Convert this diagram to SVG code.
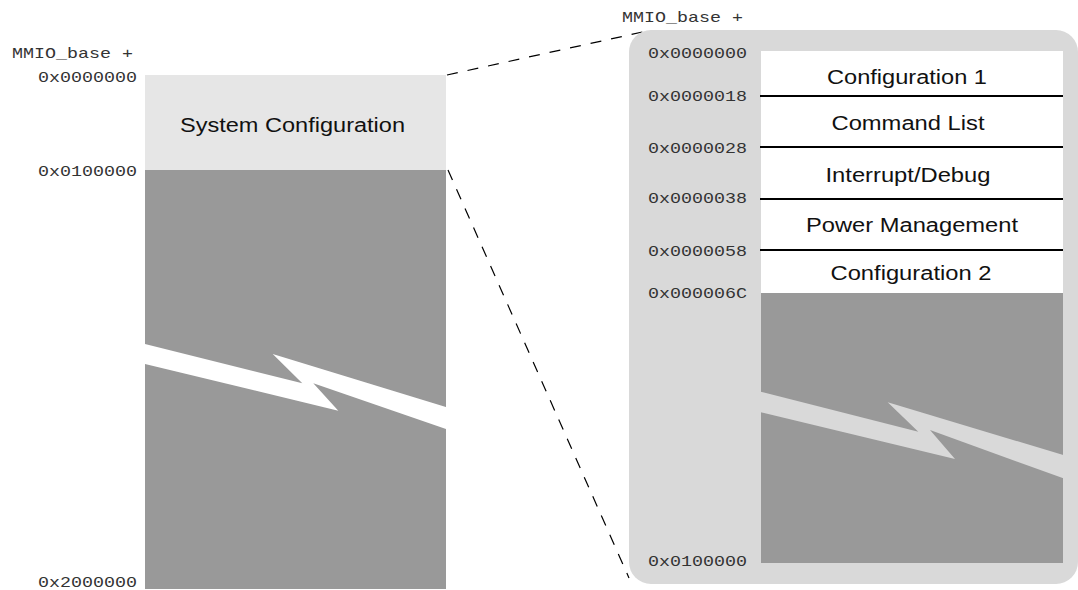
<svg xmlns="http://www.w3.org/2000/svg" width="1078" height="590" viewBox="0 0 1078 590">
  <style>
    .mono { font-family: "Liberation Mono", "Courier New", monospace; font-size: 15px; fill: #333; }
    .lbl { font-family: "Liberation Sans", Arial, Helvetica, sans-serif; font-size: 20px; fill: #111; text-anchor: middle; }
    .sep { stroke: #000; stroke-width: 2; }
    .dash { stroke: #000; stroke-width: 1.2; stroke-dasharray: 11 10; fill: none; }
  </style>
  <rect x="0" y="0" width="1078" height="590" fill="#ffffff"/>

  <g id="left-map">
    <text class="mono" x="12" y="58" textLength="121" lengthAdjust="spacingAndGlyphs">MMIO_base +</text>
    <text class="mono" x="38" y="82" textLength="99" lengthAdjust="spacingAndGlyphs">0x0000000</text>
    <text class="mono" x="38" y="176" textLength="99" lengthAdjust="spacingAndGlyphs">0x0100000</text>
    <text class="mono" x="38" y="587" textLength="99" lengthAdjust="spacingAndGlyphs">0x2000000</text>
    <g id="system-configuration">
      <rect x="145" y="75" width="301" height="95" fill="#e6e6e6"/>
      <text class="lbl" x="292.5" y="132" textLength="225" lengthAdjust="spacingAndGlyphs">System Configuration</text>
    </g>
    <g id="left-remaining">
      <rect x="145" y="170" width="301" height="419" fill="#999999"/>
      <polygon points="145,344 302.3,383.3 272.7,354 446.7,407.3 446.7,429.3 313.3,383.3 338.3,410.7 145,364" fill="#ffffff"/>
    </g>
  </g>

  <g id="connectors">
    <line class="dash" x1="447" y1="75" x2="647" y2="31"/>
    <line class="dash" x1="448" y1="170" x2="629" y2="578"/>
  </g>

  <g id="right-map">
    <text class="mono" x="622" y="22" textLength="121" lengthAdjust="spacingAndGlyphs">MMIO_base +</text>
    <rect x="629" y="30" width="449" height="554" rx="22" ry="22" fill="#d9d9d9"/>
    <text class="mono" x="648" y="58" textLength="99" lengthAdjust="spacingAndGlyphs">0x0000000</text>
    <text class="mono" x="648" y="101" textLength="99" lengthAdjust="spacingAndGlyphs">0x0000018</text>
    <text class="mono" x="648" y="153" textLength="99" lengthAdjust="spacingAndGlyphs">0x0000028</text>
    <text class="mono" x="648" y="203" textLength="99" lengthAdjust="spacingAndGlyphs">0x0000038</text>
    <text class="mono" x="648" y="256" textLength="99" lengthAdjust="spacingAndGlyphs">0x0000058</text>
    <text class="mono" x="648" y="298" textLength="99" lengthAdjust="spacingAndGlyphs">0x000006C</text>
    <text class="mono" x="648" y="566" textLength="99" lengthAdjust="spacingAndGlyphs">0x0100000</text>

    <g id="configuration-1">
      <rect x="761" y="51" width="302" height="45" fill="#ffffff"/>
      <text class="lbl" x="907" y="84" textLength="160" lengthAdjust="spacingAndGlyphs">Configuration 1</text>
    </g>
    <g id="command-list">
      <rect x="761" y="96" width="302" height="51" fill="#ffffff"/>
      <text class="lbl" x="908" y="130" textLength="153" lengthAdjust="spacingAndGlyphs">Command List</text>
    </g>
    <g id="interrupt-debug">
      <rect x="761" y="147" width="302" height="52" fill="#ffffff"/>
      <text class="lbl" x="908" y="182" textLength="165" lengthAdjust="spacingAndGlyphs">Interrupt/Debug</text>
    </g>
    <g id="power-management">
      <rect x="761" y="199" width="302" height="51" fill="#ffffff"/>
      <text class="lbl" x="912" y="232" textLength="212" lengthAdjust="spacingAndGlyphs">Power Management</text>
    </g>
    <g id="configuration-2">
      <rect x="761" y="250" width="302" height="43" fill="#ffffff"/>
      <text class="lbl" x="911" y="280" textLength="161" lengthAdjust="spacingAndGlyphs">Configuration 2</text>
    </g>
    <line class="sep" x1="760" y1="96" x2="1063" y2="96"/>
    <line class="sep" x1="760" y1="147" x2="1063" y2="147"/>
    <line class="sep" x1="760" y1="199" x2="1063" y2="199"/>
    <line class="sep" x1="760" y1="250" x2="1063" y2="250"/>
    <g id="right-remaining">
      <rect x="761" y="293" width="302" height="270" fill="#999999"/>
      <polygon points="760.7,391.7 918.3,431.7 887.7,402.3 1063.3,455 1063.3,478.3 930,430 955,459 760.7,412.3" fill="#d9d9d9"/>
    </g>
  </g>
</svg>
